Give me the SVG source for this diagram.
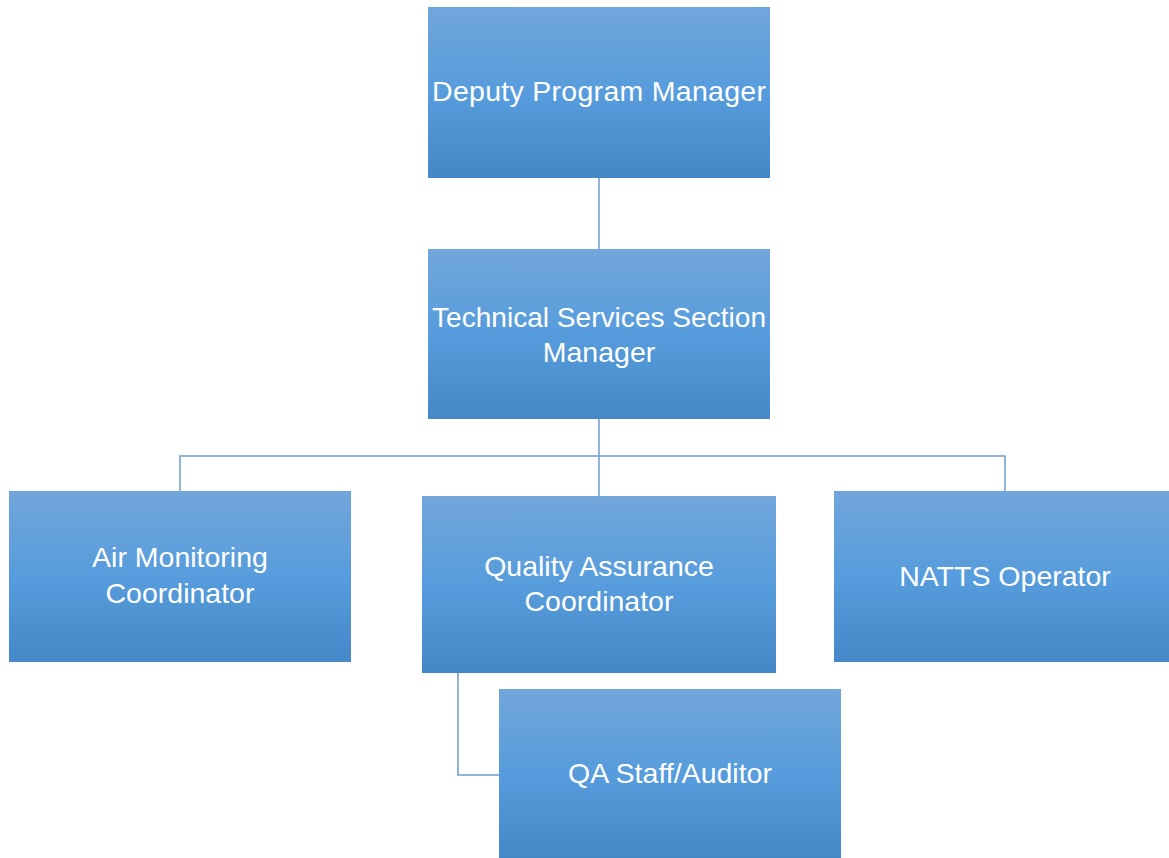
<svg xmlns="http://www.w3.org/2000/svg" width="1169" height="858" viewBox="0 0 1169 858">
  <defs>
    <linearGradient id="boxFill" x1="0" y1="0" x2="0" y2="1">
      <stop offset="0" stop-color="#71a6db"/>
      <stop offset="0.5" stop-color="#579cdc"/>
      <stop offset="1" stop-color="#4588c7"/>
    </linearGradient>
    <style>
      .box { fill: url(#boxFill); }
      .label { font-family: "Liberation Sans", Arial, sans-serif; font-size: 28.5px; fill: #ffffff; text-anchor: middle; }
      .link { fill: none; stroke: #6d9cd0; stroke-width: 1.5; }
    </style>
  </defs>
  <rect width="1169" height="858" fill="#ffffff"/>

  <g id="connectors">
    <path class="link" d="M599 178 V249"/>
    <path class="link" d="M599 419 V496"/>
    <path class="link" d="M180 491 V456 H1005 V491"/>
    <path class="link" d="M458 673 V775 H499"/>
  </g>

  <g id="deputy-program-manager">
    <rect class="box" x="428" y="7" width="342" height="171"/>
    <text class="label" x="599" y="101" textLength="334" lengthAdjust="spacing">Deputy Program Manager</text>
  </g>

  <g id="technical-services-section-manager">
    <rect class="box" x="428" y="249" width="342" height="170"/>
    <text class="label" x="599" y="327" textLength="334" lengthAdjust="spacingAndGlyphs">Technical Services Section</text>
    <text class="label" x="599" y="362">Manager</text>
  </g>

  <g id="air-monitoring-coordinator">
    <rect class="box" x="9" y="491" width="342" height="171"/>
    <text class="label" x="180" y="567">Air Monitoring</text>
    <text class="label" x="180" y="603">Coordinator</text>
  </g>

  <g id="quality-assurance-coordinator">
    <rect class="box" x="422" y="496" width="354" height="177"/>
    <text class="label" x="599" y="576">Quality Assurance</text>
    <text class="label" x="599" y="611">Coordinator</text>
  </g>

  <g id="natts-operator">
    <rect class="box" x="834" y="491" width="335" height="171"/>
    <text class="label" x="1005" y="586">NATTS Operator</text>
  </g>

  <g id="qa-staff-auditor">
    <rect class="box" x="499" y="689" width="342" height="169"/>
    <text class="label" x="670" y="783">QA Staff/Auditor</text>
  </g>
</svg>
